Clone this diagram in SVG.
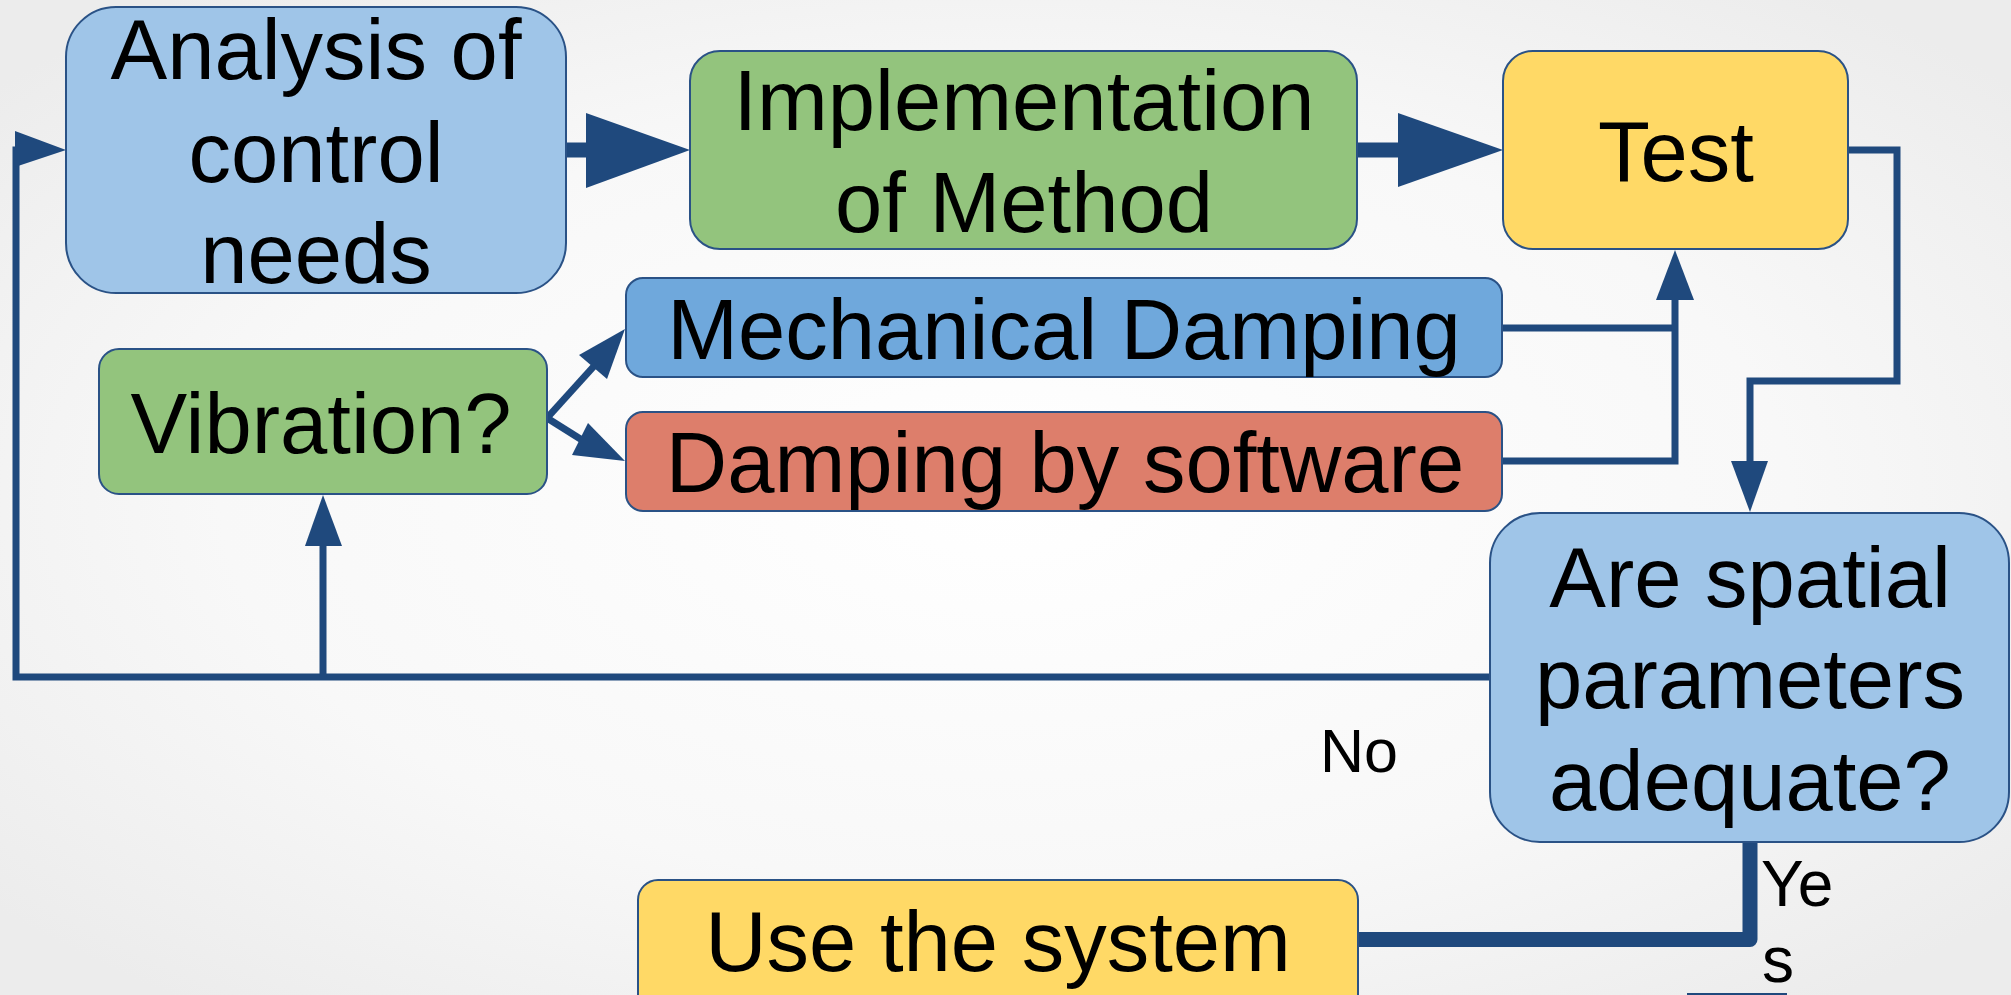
<svg xmlns="http://www.w3.org/2000/svg" width="2011" height="995" viewBox="0 0 2011 995">
<defs>
<radialGradient id="bg" cx="50%" cy="50%" r="65%">
<stop offset="0" stop-color="#ffffff"/>
<stop offset="0.6" stop-color="#f8f8f8"/>
<stop offset="1" stop-color="#ececec"/>
</radialGradient>
<style>
.box{stroke:#2a5286;stroke-width:2}
.t{font-family:"Liberation Sans",Arial,sans-serif;font-size:85px;fill:#000;text-anchor:middle}
.lbl{font-family:"Liberation Sans",Arial,sans-serif;font-size:61px;fill:#000}
.c{fill:none;stroke:#1f497d;stroke-width:7}
.ck{fill:none;stroke:#1f497d;stroke-width:15}
.ah{fill:#1f497d}
</style>
</defs>
<rect x="0" y="0" width="2011" height="995" fill="url(#bg)"/>

<g id="connectors">
<line class="ck" x1="566" y1="150" x2="590" y2="150"/>
<polygon class="ah" points="586,113 690,150 586,188"/>
<line class="ck" x1="1357" y1="150" x2="1402" y2="150"/>
<polygon class="ah" points="1398,113 1503,150 1398,187"/>
<polyline class="c" points="1848,150 1897,150 1897,381 1750,381 1750,464"/>
<polygon class="ah" points="1731,461 1750,512 1768,461"/>
<polyline class="c" points="1502,328 1675,328"/>
<polyline class="c" points="1502,461 1675,461 1675,298"/>
<polygon class="ah" points="1656,300 1675,250 1694,300"/>
<polyline class="c" points="1490,677 16,677 16,150 18,150"/>
<polygon class="ah" points="15,131 66,150 15,167"/>
<polyline class="c" points="323,677 323,544"/>
<polygon class="ah" points="305,546 323,495 342,546"/>
<line class="c" x1="547" y1="418" x2="595" y2="365"/>
<polygon class="ah" points="625,329 579,355 607,379"/>
<line class="c" x1="547" y1="418" x2="582" y2="440"/>
<polygon class="ah" points="625,461 572,455 588,423"/>
<path d="M1750,842 V939.5 H1358" fill="none" stroke="#1f497d" stroke-width="15" stroke-linejoin="round"/>
<rect x="1687" y="993" width="100" height="6" fill="#1f497d"/>
</g>

<g id="analysis">
<rect class="box" x="66" y="7" width="500" height="286" rx="50" fill="#9fc5e8"/>
<text class="t" x="316" y="79">Analysis of</text>
<text class="t" x="316" y="182">control</text>
<text class="t" x="316" y="283">needs</text>
</g>

<g id="implementation">
<rect class="box" x="690" y="51" width="667" height="198" rx="30" fill="#93c47d"/>
<text class="t" x="1024" y="130">Implementation</text>
<text class="t" x="1024" y="232">of Method</text>
</g>

<g id="test">
<rect class="box" x="1503" y="51" width="345" height="198" rx="30" fill="#ffd966"/>
<text class="t" x="1676" y="181">Test</text>
</g>

<g id="mechanical">
<rect class="box" x="626" y="278" width="876" height="99" rx="17" fill="#6fa8dc"/>
<text class="t" x="1064" y="359">Mechanical Damping</text>
</g>

<g id="software">
<rect class="box" x="626" y="412" width="876" height="99" rx="17" fill="#dd7e6b"/>
<text class="t" x="1065" y="492">Damping by software</text>
</g>

<g id="vibration">
<rect class="box" x="99" y="349" width="448" height="145" rx="20" fill="#93c47d"/>
<text class="t" x="321" y="453">Vibration?</text>
</g>

<g id="decision">
<rect class="box" x="1490" y="513" width="519" height="329" rx="50" fill="#9fc5e8"/>
<text class="t" x="1750" y="607">Are spatial</text>
<text class="t" x="1750" y="708">parameters</text>
<text class="t" x="1750" y="810">adequate?</text>
</g>

<g id="use">
<rect class="box" x="638" y="880" width="720" height="150" rx="20" fill="#ffd966"/>
<text class="t" x="998" y="971">Use the system</text>
</g>

<g id="labels">
<text class="lbl" x="1320" y="772">No</text>
<text class="lbl" x="1761" y="906" style="font-size:64px">Ye</text>
<text class="lbl" x="1762" y="982" style="font-size:64px">s</text>
</g>
</svg>
